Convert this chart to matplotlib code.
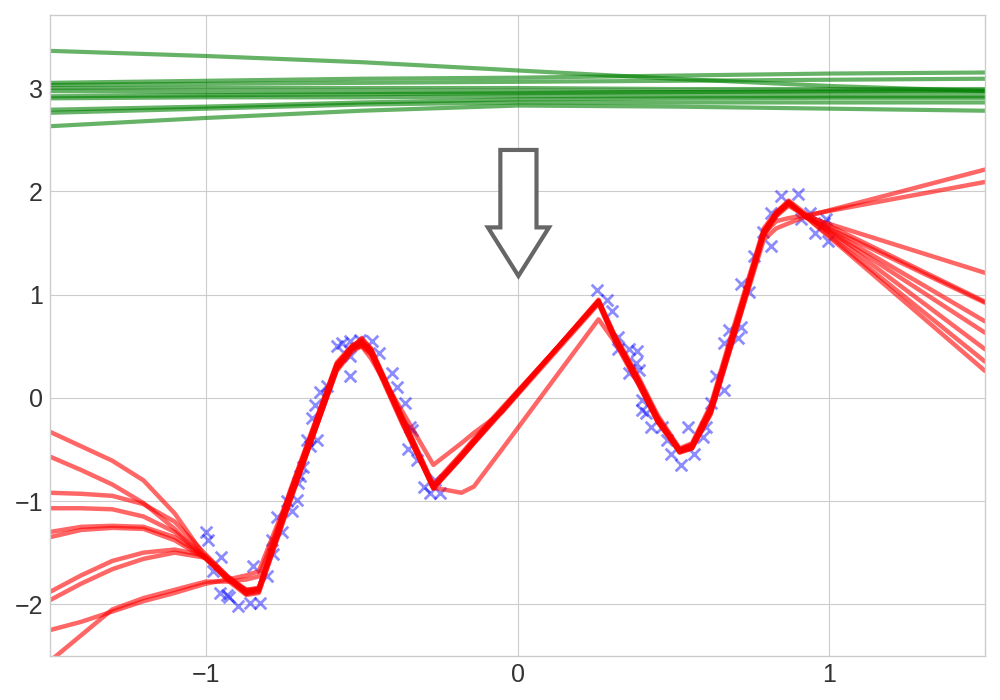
import matplotlib
matplotlib.use("Agg")
import matplotlib.pyplot as plt
import numpy as np

# prior samples (green), read at these x positions
x_prior = [-1.5, -1.0, -0.5, 0.0, 0.5, 1.0, 1.5]
prior_lines = [
    [3.36, 3.31, 3.25, 3.17, 3.09, 3.02, 2.97],
    [3.05, 3.07, 3.09, 3.10, 3.12, 3.14, 3.15],
    [3.03, 3.04, 3.05, 3.06, 3.07, 3.08, 3.09],
    [3.00, 3.00, 3.00, 3.00, 2.99, 2.99, 2.99],
    [2.97, 2.96, 2.96, 2.96, 2.96, 2.96, 2.96],
    [2.92, 2.93, 2.94, 2.95, 2.96, 2.97, 2.975],
    [2.90, 2.91, 2.91, 2.92, 2.92, 2.92, 2.92],
    [2.79, 2.82, 2.86, 2.89, 2.90, 2.905, 2.905],
    [2.76, 2.80, 2.84, 2.86, 2.86, 2.86, 2.86],
    [2.63, 2.71, 2.78, 2.83, 2.82, 2.80, 2.78],
]

# posterior samples (red)
x_post = [-1.5, -1.4, -1.3, -1.2, -1.1, -1.0, -0.93, -0.87, -0.83, -0.73,
          -0.58, -0.53, -0.5, -0.47, -0.37, -0.27, -0.18, -0.14, -0.05, 0.26,
          0.31, 0.39, 0.45, 0.52, 0.56, 0.62, 0.69, 0.79, 0.83, 0.87, 0.93, 1.5]
post_lines = [
    [-0.33, -0.47, -0.61, -0.80, -1.12, -1.55,
     -1.74, -1.90, -1.84, -0.90, 0.34, 0.51, 0.55, 0.44, -0.24, -0.88, -0.58, -0.44, -0.14,
     0.95, 0.62, 0.19, -0.17, -0.49, -0.44, -0.07, 0.65, 1.64, 1.80, 1.91, 1.77, 0.93],
    [-0.57, -0.70, -0.84, -1.02, -1.27, -1.56,
     -1.76, -1.86, -1.85, -0.99, 0.27, 0.47, 0.50, 0.38, -0.13, -0.65, -0.44, -0.34, -0.14,
     0.91, 0.57, 0.12, -0.24, -0.52, -0.49, -0.16, 0.54, 1.57, 1.76, 1.88, 1.76, 0.47],
    [-0.92, -0.93, -0.95, -1.03, -1.20, -1.52,
     -1.73, -1.86, -1.84, -0.98, 0.26, 0.45, 0.50, 0.42, -0.25, -0.87, -0.92, -0.86, -0.50,
     0.76, 0.55, 0.12, -0.23, -0.53, -0.49, -0.14, 0.56, 1.58, 1.76, 1.86, 1.75, 1.21],
    [-1.07, -1.07, -1.08, -1.15, -1.30, -1.55,
     -1.77, -1.91, -1.89, -1.00, 0.28, 0.47, 0.51, 0.43, -0.23, -0.88, -0.58, -0.44, -0.13,
     0.94, 0.61, 0.16, -0.20, -0.53, -0.49, -0.15, 0.55, 1.53, 1.64, 1.69, 1.76, 2.21],
    [-1.30, -1.25, -1.24, -1.25, -1.35, -1.55,
     -1.74, -1.87, -1.86, -0.93, 0.33, 0.50, 0.54, 0.46, -0.19, -0.85, -0.55, -0.41, -0.11,
     0.93, 0.60, 0.17, -0.19, -0.50, -0.45, -0.09, 0.61, 1.59, 1.71, 1.74, 1.77, 2.09],
    [-1.35, -1.28, -1.26, -1.27, -1.38, -1.56,
     -1.76, -1.89, -1.87, -0.97, 0.29, 0.50, 0.57, 0.48, -0.18, -0.84, -0.54, -0.40, -0.10,
     0.92, 0.58, 0.13, -0.23, -0.51, -0.46, -0.10, 0.62, 1.62, 1.79, 1.89, 1.74, 0.92],
    [-1.88, -1.72, -1.58, -1.50, -1.47, -1.53,
     -1.73, -1.87, -1.85, -0.92, 0.32, 0.49, 0.53, 0.46, -0.20, -0.86, -0.56, -0.42, -0.12,
     0.93, 0.59, 0.15, -0.21, -0.51, -0.48, -0.13, 0.58, 1.60, 1.78, 1.87, 1.75, 0.74],
    [-1.96, -1.80, -1.66, -1.56, -1.50, -1.55,
     -1.75, -1.90, -1.88, -1.01, 0.28, 0.47, 0.52, 0.44, -0.22, -0.87, -0.57, -0.43, -0.12,
     0.94, 0.60, 0.14, -0.22, -0.52, -0.47, -0.12, 0.59, 1.61, 1.79, 1.90, 1.75, 0.63],
    [-2.25, -2.17, -2.07, -1.97, -1.89, -1.80,
     -1.76, -1.72, -1.68, -0.92, 0.32, 0.49, 0.55, 0.46, -0.21, -0.87, -0.57, -0.43, -0.12,
     0.93, 0.59, 0.16, -0.20, -0.50, -0.46, -0.11, 0.60, 1.61, 1.78, 1.89, 1.74, 0.35],
    [-2.55, -2.30, -2.05, -1.94, -1.86, -1.78,
     -1.78, -1.76, -1.73, -0.95, 0.30, 0.48, 0.58, 0.47, -0.20, -0.86, -0.56, -0.42, -0.12,
     0.93, 0.59, 0.15, -0.21, -0.51, -0.47, -0.12, 0.59, 1.60, 1.78, 1.90, 1.74, 0.26],
]

# observed data (blue crosses)
x_obs = [-0.998, -0.993, -0.950, -0.977, -0.955, -0.933, -0.927, -0.896, -0.859, -0.826,
         -0.848, -0.805, -0.784, -0.789, -0.773, -0.757, -0.741, -0.725, -0.708, -0.698,
         -0.687, -0.703, -0.676, -0.644, -0.666, -0.660, -0.650, -0.633, -0.612, -0.580,
         -0.564, -0.537, -0.537, -0.537, -0.505, -0.467, -0.443, -0.403, -0.387, -0.360,
         -0.344, -0.350, -0.339, -0.323, -0.301, -0.280, -0.248, -0.264,
         0.256, 0.288, 0.304, 0.321, 0.321, 0.358, 0.385, 0.379, 0.390, 0.358,
         0.401, 0.401, 0.412, 0.428, 0.465, 0.481, 0.492, 0.524, 0.546, 0.567,
         0.594, 0.605, 0.621, 0.637, 0.663, 0.663, 0.679, 0.706, 0.717, 0.717,
         0.744, 0.760, 0.787, 0.814, 0.814, 0.846, 0.899, 0.910, 0.937, 0.953,
         0.985, 0.996, 0.990]
y_obs = [-1.30, -1.38, -1.54, -1.68, -1.89, -1.91, -1.93, -2.02, -1.99, -1.99,
         -1.63, -1.73, -1.51, -1.38, -1.15, -1.30, -1.00, -1.10, -0.99, -0.76,
         -0.67, -0.83, -0.41, -0.41, -0.47, -0.20, -0.07, 0.06, 0.11, 0.50,
         0.53, 0.40, 0.21, 0.55, 0.56, 0.55, 0.43, 0.24, 0.10, -0.05,
         -0.28, -0.50, -0.31, -0.60, -0.86, -0.92, -0.92, -0.80,
         1.04, 0.95, 0.84, 0.59, 0.47, 0.47, 0.45, 0.34, 0.27, 0.24,
         -0.02, -0.12, -0.15, -0.28, -0.28, -0.41, -0.54, -0.65, -0.28, -0.54,
         -0.38, -0.28, -0.05, 0.21, 0.08, 0.53, 0.66, 0.58, 0.69, 1.10,
         1.02, 1.37, 1.61, 1.47, 1.79, 1.95, 1.97, 1.73, 1.79, 1.60,
         1.69, 1.52, 1.73]

plt.style.use("seaborn-v0_8-whitegrid")
plt.rcParams["font.family"] = ["Liberation Sans", "DejaVu Sans"]

fig = plt.figure(figsize=(10, 7), dpi=100)
ax = fig.add_axes([0.05, 0.063, 0.935, 0.916])

for yy in prior_lines:
    ax.plot(x_prior, yy, color="g", alpha=0.6, lw=3)

ax.scatter(x_obs, y_obs, marker="x", color="b", alpha=0.45, s=70, linewidths=2)

for yy in post_lines:
    ax.plot(x_post, yy, color="r", alpha=0.6, lw=3.2)

ax.arrow(0.003, 2.40, 0, -1.22, width=0.116, head_width=0.196, head_length=0.47,
         length_includes_head=True, fc="white", ec="#666666", lw=3, zorder=5)

ax.set_xlim(-1.5, 1.5)
ax.set_ylim(-2.5, 3.71)
ax.set_xticks([-1, 0, 1])
ax.set_yticks([-2, -1, 0, 1, 2, 3])
ax.tick_params(labelsize=18, labelcolor="#333333", length=0, pad=5)
for sp in ax.spines.values():
    sp.set_visible(True)
    sp.set_color("#cccccc")
    sp.set_linewidth(1)
ax.grid(True, color="#cccccc", lw=0.8)

fig.savefig("out.png", dpi=100)
